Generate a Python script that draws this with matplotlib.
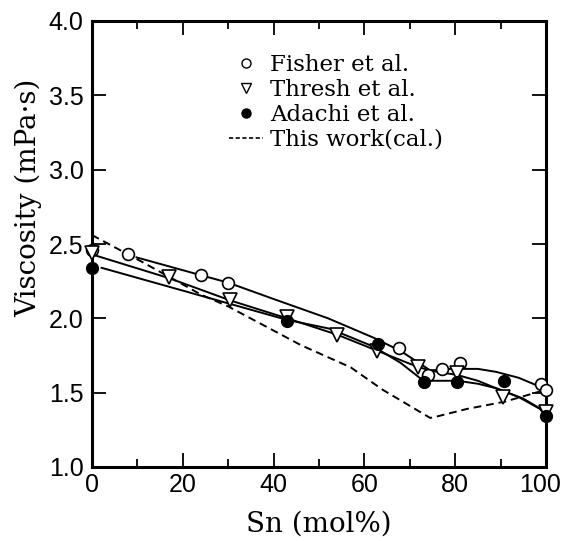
import numpy as np
import matplotlib
matplotlib.use('Agg')
import matplotlib.pyplot as plt
import matplotlib.transforms as mtransforms
from matplotlib.lines import Line2D

# measured viscosities (mPa s) vs Sn content (mol%)
fisher_x = [0, 7.9, 24.0, 29.9, 67.6, 73.9, 77.0, 81.1, 99.0, 100]
fisher_y = [2.46, 2.43, 2.29, 2.24, 1.80, 1.62, 1.66, 1.70, 1.56, 1.52]

thresh_x = [0.1, 17.0, 30.5, 42.9, 53.9, 62.8, 71.9, 80.3, 90.6, 100]
thresh_y = [2.44, 2.28, 2.12, 2.01, 1.89, 1.78, 1.67, 1.63, 1.47, 1.37]

adachi_x = [0, 42.9, 63.1, 73.1, 80.5, 90.7, 100]
adachi_y = [2.34, 1.98, 1.83, 1.57, 1.57, 1.58, 1.34]

# calculated curve
calc_x = [0, 11, 24, 30, 46, 57, 64, 74.5, 76, 82.5, 91, 100]
calc_y = [2.56, 2.38, 2.16, 2.08, 1.82, 1.67, 1.52, 1.33, 1.34, 1.39, 1.44, 1.52]

# hand-drawn guide lines through the data
fisher_fit1_x = [9.8, 24, 30, 40, 52, 62, 68, 72, 74]
fisher_fit1_y = [2.41, 2.29, 2.24, 2.13, 2.00, 1.87, 1.78, 1.70, 1.66]
fisher_fit2_x = [74.5, 79.2, 85, 89, 94, 97.9, 100]
fisher_fit2_y = [1.65, 1.66, 1.66, 1.64, 1.60, 1.55, 1.52]

thresh_fit_x = [0, 17, 30.5, 43, 54, 63, 72, 76, 80.3, 85, 89, 95, 100]
thresh_fit_y = [2.43, 2.27, 2.12, 2.00, 1.89, 1.78, 1.67, 1.64, 1.62, 1.58, 1.53, 1.46, 1.37]

adachi_fit_x = [2.1, 42.9, 52.4, 62, 68, 73, 80.5, 85, 89, 94, 98.7, 100]
adachi_fit_y = [2.34, 1.99, 1.93, 1.81, 1.70, 1.58, 1.58, 1.56, 1.53, 1.47, 1.39, 1.34]

xticks = [0, 20, 40, 60, 80, 100]
yticks = [1.0, 1.5, 2.0, 2.5, 3.0, 3.5, 4.0]
legend_labels = ['Fisher et al.', 'Thresh et al.', 'Adachi et al.', 'This work(cal.)']

serif = ['DejaVu Serif']
sans = ['Liberation Sans', 'DejaVu Sans']

fig = plt.figure(figsize=(5.61, 5.41), dpi=100)
ax = fig.add_axes([92 / 561, 74 / 541, 454 / 561, 446 / 541])

lw = 1.4
ax.plot(fisher_fit1_x, fisher_fit1_y, color='black', lw=lw)
ax.plot(fisher_fit2_x, fisher_fit2_y, color='black', lw=lw)
ax.plot(thresh_fit_x, thresh_fit_y, color='black', lw=lw)
ax.plot(adachi_fit_x, adachi_fit_y, color='black', lw=lw)
ax.plot(calc_x, calc_y, color='black', lw=1.4, ls=(0, (4, 2.5)))

ax.plot(fisher_x, fisher_y, 'o', ms=8.5, mfc='white', mec='black', mew=1.2,
        clip_on=False, zorder=5)
ax.plot(thresh_x, thresh_y, 'v', ms=10, mfc='white', mec='black', mew=1.2,
        clip_on=False, zorder=5)
ax.plot(adachi_x, adachi_y, 'o', ms=8.5, mfc='black', mec='black',
        clip_on=False, zorder=6)

ax.set_xlim(0, 100)
ax.set_ylim(1.0, 4.0)
ax.set_xticks(xticks)
ax.set_xticks(np.arange(10, 100, 20), minor=True)
ax.set_yticks(yticks)
ax.set_xticklabels([str(v) for v in xticks])
ax.set_yticklabels(['%.1f' % v for v in yticks])
ax.tick_params(which='major', direction='in', length=10, width=1.3,
               top=True, right=True, labelsize=18)
ax.tick_params(axis='x', pad=4)
ax.tick_params(axis='y', pad=6)
ax.tick_params(which='minor', direction='in', length=6, width=1.3,
               top=True, right=False)
for lab in ax.get_xticklabels() + ax.get_yticklabels():
    lab.set_family(sans)
# keep the last x label inside the figure
last = ax.get_xticklabels()[-1]
last.set_transform(last.get_transform() +
                   mtransforms.ScaledTranslation(-6 / 100, 0, fig.dpi_scale_trans))
for sp in ax.spines.values():
    sp.set_linewidth(2.2)

ax.set_xlabel('Sn (mol%)', family=serif, fontsize=20, labelpad=10)
fig.text(29 / 561, 1 - 198 / 541, 'Viscosity (mPa·s)', family=serif,
         fontsize=20, rotation=90, ha='center', va='center')

handles = [
    Line2D([], [], ls='none', marker='o', ms=6.5, mfc='white', mec='black', mew=1),
    Line2D([], [], ls='none', marker='v', ms=7.5, mfc='white', mec='black', mew=1),
    Line2D([], [], ls='none', marker='o', ms=6.5, mfc='black', mec='black'),
    Line2D([], [], color='black', lw=1.2, ls=(0, (2.5, 1.5))),
]
ax.legend(handles, legend_labels, loc='upper left', bbox_to_anchor=(0.302, 0.925),
          frameon=False, prop={'family': serif, 'size': 16.5},
          handlelength=1.5, handletextpad=0.3, labelspacing=0.12,
          borderaxespad=0, borderpad=0)

fig.savefig('out.png', dpi=100)
